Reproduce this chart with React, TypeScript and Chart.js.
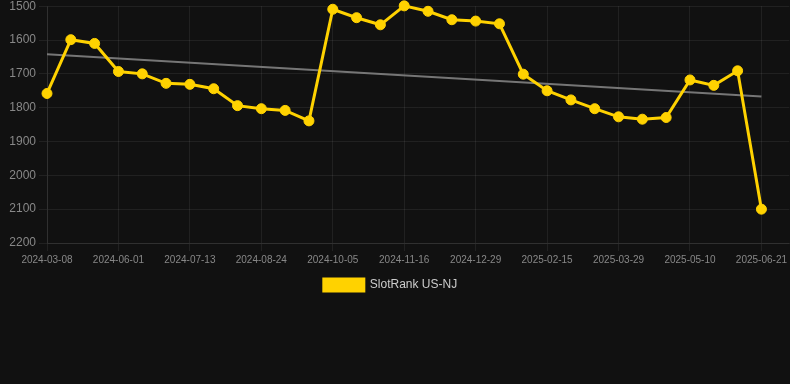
import React, { useEffect, useRef } from "react";
import { Chart, registerables } from "chart.js";

Chart.register(...registerables);

const dates: string[] = [
  "2024-03-08", "2024-04-13", "2024-05-11", "2024-06-01", "2024-06-15", "2024-06-29",
  "2024-07-13", "2024-07-27", "2024-08-10", "2024-08-24", "2024-09-07", "2024-09-21",
  "2024-10-05", "2024-10-19", "2024-11-02", "2024-11-16", "2024-11-30", "2024-12-14",
  "2024-12-29", "2025-01-12", "2025-01-26", "2025-02-15", "2025-03-01", "2025-03-15",
  "2025-03-29", "2025-04-12", "2025-04-26", "2025-05-10", "2025-05-24", "2025-06-07",
  "2025-06-21",
];

const ranks: number[] = [
  1758, 1599, 1610, 1693, 1700, 1728, 1731, 1744, 1794, 1803, 1808, 1839,
  1509, 1534, 1555, 1499, 1515, 1540, 1544, 1552, 1701, 1750, 1777, 1803,
  1827, 1834, 1829, 1718, 1734, 1691, 2100,
];

const trendStart = 1642;
const trendEnd = 1767;

const yTicks: number[] = [1500, 1600, 1700, 1800, 1900, 2000, 2100, 2200];
const xTickEvery = 3;

const FONT = "'Liberation Sans', Arial, Helvetica, sans-serif";
const YELLOW = "#FFD200";

const legendShift = {
  id: "legendShift",
  afterLayout(chart: any) {
    if (chart.legend) chart.legend.right -= 9;
  },
};

export default function App() {
  const ref = useRef<HTMLCanvasElement | null>(null);

  useEffect(() => {
    if (!ref.current) return;
    const last = ranks.length - 1;
    const chart = new Chart(ref.current, {
      type: "line",
      plugins: [legendShift],
      data: {
        datasets: [
          {
            label: "SlotRank US-NJ",
            data: ranks.map((v, i) => ({ x: i, y: v })),
            borderColor: YELLOW,
            backgroundColor: YELLOW,
            borderWidth: 3,
            pointRadius: 5,
            pointBackgroundColor: YELLOW,
            pointBorderColor: YELLOW,
            pointBorderWidth: 1,
            tension: 0,
            clip: false,
            order: 1,
          },
          {
            label: "trend",
            data: [
              { x: 0, y: trendStart },
              { x: last, y: trendEnd },
            ],
            borderColor: "rgba(130,130,130,0.9)",
            borderWidth: 2,
            pointRadius: 0,
            tension: 0,
            order: 2,
          },
        ],
      },
      options: {
        animation: false,
        responsive: true,
        maintainAspectRatio: false,
        layout: { padding: 0, autoPadding: false },
        plugins: {
          legend: {
            position: "bottom",
            labels: {
              color: "#cccccc",
              font: { family: FONT, size: 12 },
              boxWidth: 40,
              boxHeight: 12,
              filter: (item: any) => item.text !== "trend",
            },
          },
          tooltip: { enabled: false },
        },
        scales: {
          x: {
            type: "linear",
            min: 0,
            max: 31.17,
            afterBuildTicks: (axis: any) => {
              const t: any[] = [];
              for (let i = 0; i <= last; i += xTickEvery) t.push({ value: i });
              axis.ticks = t;
            },
            ticks: {
              color: "#888888",
              font: { family: FONT, size: 10 },
              maxRotation: 0,
              autoSkip: false,
              callback: (v: any) => dates[Math.round(Number(v))] ?? "",
            },
            grid: { color: "rgba(255,255,255,0.07)" },
            border: { color: "rgba(255,255,255,0.07)" },
          },
          y: {
            reverse: true,
            min: 1500,
            max: 2200,
            afterBuildTicks: (axis: any) => {
              axis.ticks = yTicks.map((v) => ({ value: v }));
            },
            afterFit: (axis: any) => {
              axis.width = 47;
            },
            ticks: {
              color: "#888888",
              font: { family: FONT, size: 12 },
              callback: (v: any) => String(v),
            },
            grid: { color: "rgba(255,255,255,0.07)" },
            border: { color: "rgba(255,255,255,0.07)" },
          },
        },
      },
    });
    return () => chart.destroy();
  }, []);

  return (
    <div
      style={{
        position: "fixed",
        left: 0,
        top: 0,
        width: 790,
        height: 384,
        background: "#111111",
        overflow: "hidden",
      }}
    >
      <div style={{ position: "relative", width: 790, height: 305, marginTop: -4 }}>
        <canvas ref={ref} />
      </div>
    </div>
  );
}
